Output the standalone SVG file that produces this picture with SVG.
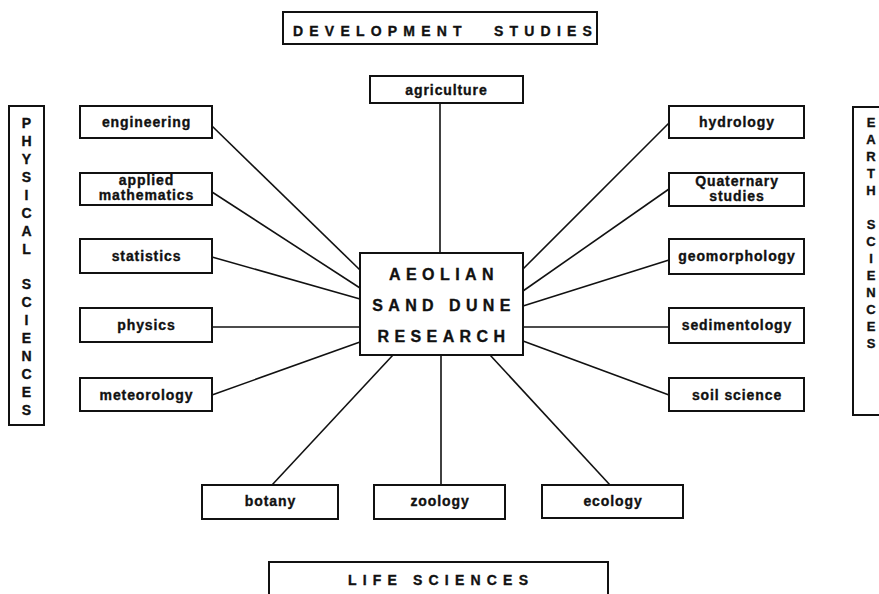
<svg xmlns="http://www.w3.org/2000/svg" width="879" height="594" viewBox="0 0 879 594">
<style>
.box{fill:#fff;stroke:#111;stroke-width:2}
.lbl{font-family:"Liberation Sans",Arial,sans-serif;font-weight:bold;font-size:14px;letter-spacing:0.9px;fill:#111;stroke:#111;stroke-width:0.35;text-anchor:middle}
.hdr{font-family:"Liberation Sans",Arial,sans-serif;font-weight:bold;font-size:14px;letter-spacing:6.2px;fill:#111;stroke:#111;stroke-width:0.35}
.vt{font-family:"Liberation Sans",Arial,sans-serif;font-weight:bold;font-size:14px;fill:#111;stroke:#111;stroke-width:0.35;text-anchor:middle}
.ctr{font-family:"Liberation Sans",Arial,sans-serif;font-weight:bold;font-size:16px;letter-spacing:5.4px;fill:#111;stroke:#111;stroke-width:0.35;text-anchor:middle}
.con line{stroke:#111;stroke-width:1.6}
</style>
<rect width="879" height="594" fill="#fff"/>
<g id="connectors" class="con">
<line x1="440" y1="103" x2="440" y2="253"/>
<line x1="212" y1="126" x2="360" y2="270"/>
<line x1="212" y1="192" x2="360" y2="288"/>
<line x1="212" y1="257" x2="360" y2="299"/>
<line x1="212" y1="327" x2="360" y2="327"/>
<line x1="212" y1="395" x2="360" y2="342"/>
<line x1="669" y1="123" x2="523" y2="269"/>
<line x1="669" y1="189" x2="523" y2="291"/>
<line x1="669" y1="260" x2="523" y2="306"/>
<line x1="669" y1="327" x2="523" y2="327"/>
<line x1="669" y1="395" x2="523" y2="341"/>
<line x1="272" y1="485" x2="393" y2="355"/>
<line x1="441" y1="355" x2="441" y2="485"/>
<line x1="490" y1="355" x2="610" y2="485"/>
</g>
<g id="development-studies">
<rect class="box" x="283" y="12" width="314" height="32"/>
<text class="hdr" x="293" y="35.5">DEVELOPMENT</text>
<text class="hdr" x="494" y="35.5">STUDIES</text>
</g>
<g id="life-sciences">
<rect class="box" x="269" y="562" width="339" height="40"/>
<text class="hdr" x="348" y="585">LIFE</text>
<text class="hdr" x="413" y="585">SCIENCES</text>
</g>
<g id="physical-sciences">
<rect class="box" x="9" y="106" width="35" height="319"/>
<text class="vt">
<tspan x="26.5" y="128.3">P</tspan><tspan x="26.5" y="146.2">H</tspan><tspan x="26.5" y="164.1">Y</tspan><tspan x="26.5" y="182">S</tspan><tspan x="26.5" y="199.9">I</tspan><tspan x="26.5" y="217.8">C</tspan><tspan x="26.5" y="235.7">A</tspan><tspan x="26.5" y="253.6">L</tspan><tspan x="26.5" y="289.4">S</tspan><tspan x="26.5" y="307.3">C</tspan><tspan x="26.5" y="325.2">I</tspan><tspan x="26.5" y="343.1">E</tspan><tspan x="26.5" y="361">N</tspan><tspan x="26.5" y="378.9">C</tspan><tspan x="26.5" y="396.8">E</tspan><tspan x="26.5" y="414.7">S</tspan>
</text>
</g>
<g id="earth-sciences">
<rect class="box" x="853" y="107" width="40" height="308"/>
<text class="vt" style="font-size:13px">
<tspan x="871" y="127.3">E</tspan><tspan x="871" y="144.3">A</tspan><tspan x="871" y="161.3">R</tspan><tspan x="871" y="178.3">T</tspan><tspan x="871" y="195.3">H</tspan><tspan x="871" y="229.3">S</tspan><tspan x="871" y="246.3">C</tspan><tspan x="871" y="263.3">I</tspan><tspan x="871" y="280.3">E</tspan><tspan x="871" y="297.3">N</tspan><tspan x="871" y="314.3">C</tspan><tspan x="871" y="331.3">E</tspan><tspan x="871" y="348.3">S</tspan>
</text>
</g>
<g id="aeolian-sand-dune-research">
<rect class="box" x="360" y="253" width="163" height="102"/>
<text class="ctr" x="444" y="280">AEOLIAN</text>
<text class="ctr" x="444" y="311">SAND DUNE</text>
<text class="ctr" x="444" y="342">RESEARCH</text>
</g>
<g id="agriculture">
<rect class="box" x="370" y="76" width="153" height="27"/>
<text class="lbl" x="446.5" y="94.5">agriculture</text>
</g>
<g id="engineering">
<rect class="box" x="80" y="106" width="132" height="32"/>
<text class="lbl" x="146.5" y="127">engineering</text>
</g>
<g id="applied-mathematics">
<rect class="box" x="80" y="173" width="132" height="32"/>
<text class="lbl" x="146.5" y="185">applied</text>
<text class="lbl" x="146.5" y="199.5">mathematics</text>
</g>
<g id="statistics">
<rect class="box" x="80" y="239" width="132" height="34"/>
<text class="lbl" x="146.5" y="261">statistics</text>
</g>
<g id="physics">
<rect class="box" x="80" y="308" width="132" height="34"/>
<text class="lbl" x="146.5" y="330">physics</text>
</g>
<g id="meteorology">
<rect class="box" x="80" y="378" width="132" height="33"/>
<text class="lbl" x="146.5" y="399.5">meteorology</text>
</g>
<g id="hydrology">
<rect class="box" x="669" y="106" width="135" height="32"/>
<text class="lbl" x="737" y="127">hydrology</text>
</g>
<g id="quaternary-studies">
<rect class="box" x="669" y="173" width="135" height="33"/>
<text class="lbl" x="737" y="186">Quaternary</text>
<text class="lbl" x="737" y="200.5">studies</text>
</g>
<g id="geomorphology">
<rect class="box" x="669" y="239" width="135" height="35"/>
<text class="lbl" x="737" y="261">geomorphology</text>
</g>
<g id="sedimentology">
<rect class="box" x="669" y="308" width="135" height="35"/>
<text class="lbl" x="737" y="330">sedimentology</text>
</g>
<g id="soil-science">
<rect class="box" x="669" y="378" width="135" height="33"/>
<text class="lbl" x="737" y="399.5">soil science</text>
</g>
<g id="botany">
<rect class="box" x="202" y="485" width="136" height="34"/>
<text class="lbl" x="270.5" y="506">botany</text>
</g>
<g id="zoology">
<rect class="box" x="374" y="485" width="131" height="34"/>
<text class="lbl" x="440" y="506">zoology</text>
</g>
<g id="ecology">
<rect class="box" x="542" y="485" width="141" height="33"/>
<text class="lbl" x="613" y="506">ecology</text>
</g>
</svg>
